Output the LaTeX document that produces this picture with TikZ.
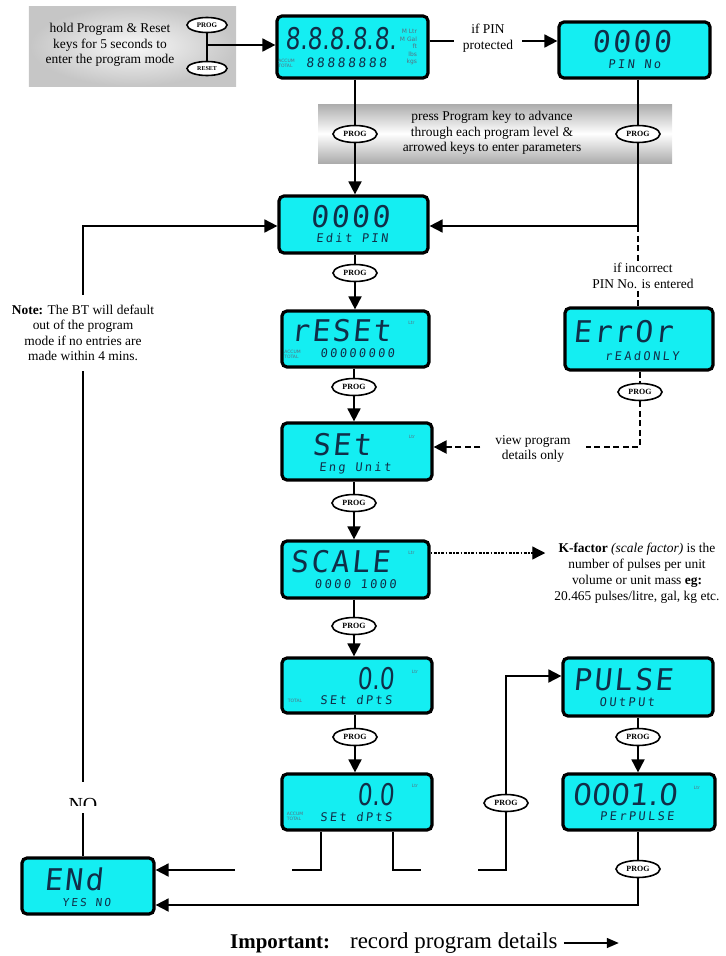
\documentclass[tikz,border=0pt]{standalone}
\usepackage{graphicx}
\usepackage{fontspec}
\setmainfont{Liberation Serif}
\newfontfamily\lcdfont{DejaVu Sans Mono}[FakeSlant=0.1, LetterSpace=8]
\newfontfamily\lcdwide{DejaVu Sans Mono}[FakeSlant=0.1, LetterSpace=20]
\newfontfamily\lcdprop{DejaVu Sans}[FakeSlant=0.1]
\newfontfamily\tagfont{DejaVu Sans}
\usepackage{tikz}
\usetikzlibrary{arrows.meta, positioning, shapes.geometric, calc}
\definecolor{lcdcyan}{RGB}{20, 238, 242}
\definecolor{lcdink}{RGB}{16, 46, 72}

\begin{document}
\begin{tikzpicture}[
  x=1bp, y=-1bp,
  lcd/.style={rectangle, rounded corners=5bp, draw=black, line width=3.2bp, fill=lcdcyan, minimum width=148bp, minimum height=57bp, inner sep=0pt},
  lcdbig/.style={inner sep=0pt, text=lcdink, font=\lcdfont\fontsize{30}{30}\selectfont},
  lcdnum/.style={inner sep=0pt, text=lcdink, font=\lcdprop\fontsize{30}{30}\selectfont},
  lcdsub/.style={inner sep=0pt, text=lcdink, font=\lcdwide\fontsize{12}{12}\selectfont},
  lcdtag/.style={inner sep=0pt, text=lcdink!70, font=\tagfont\fontsize{4.5}{5}\selectfont, align=left},
  key/.style={ellipse, draw=black, line width=1.6bp, fill=white, minimum width=44bp, minimum height=17bp, inner sep=0pt, font=\bfseries\fontsize{8}{8}\selectfont},
  line/.style={draw=black, line width=1.8bp},
  arrow/.style={line, -{Triangle[length=13bp, width=13bp]}},
  dashline/.style={line, line width=2.2bp, dash pattern=on 6bp off 3.5bp},
  dotline/.style={draw=black, line width=1.3bp, dash pattern=on 1.5bp off 1.5bp on 3bp off 1.5bp, -{Triangle[length=13bp, width=13bp]}},
  caption/.style={align=center, inner sep=0pt, font=\fontsize{13.5}{15.5}\selectfont}
]
\useasboundingbox (0,0) rectangle (726,956);

% start panel and banner
\node[rectangle, minimum width=207bp, minimum height=80bp, inner color=gray!5, outer color=gray!45] (hold) at (132.5,46) {};
\node[caption] (holdtext) at (110,45) {hold Program \& Reset\\keys for 5 seconds to\\enter the program mode};
\node[key, minimum width=40bp, minimum height=15bp, font=\bfseries\fontsize{7}{7}\selectfont] (keyprog) at (207,25) {PROG};
\node[key, minimum width=40bp, minimum height=14bp, font=\bfseries\fontsize{6}{6}\selectfont] (keyreset) at (207,68.5) {RESET};

\node[rectangle, minimum width=354bp, minimum height=59bp, top color=gray!65, bottom color=gray!65, middle color=white] (banner) at (495,133.5) {};
\node[caption] (bannertext) at (492,133) {press Program key to advance\\through each program level \&\\arrowed keys to enter parameters};

% displays
\node[lcd, minimum width=151bp, minimum height=62bp] (disp) at (352.5,47) {};
\node[lcdnum] (dispbig) at ([xshift=-11.5bp, yshift=8bp]disp.center) {\scalebox{0.78}[1]{8.8.8.8.8.}};
\node[lcdsub, font=\lcdwide\fontsize{13}{13}\selectfont] (dispsub) at ([xshift=-6bp, yshift=-15.5bp]disp.center) {88888888};
\node[lcdtag] (disptag) at ([xshift=-66bp, yshift=-16bp]disp.center) {ACCUM\\TOTAL};
\node[lcdtag, align=right, font=\tagfont\fontsize{6}{7.5}\selectfont] (dispunits) at ([xshift=56bp]disp.center) {M Ltr\\M Gal\\ft\\lbs\\kgs};

\node[lcd, minimum width=151bp, minimum height=56bp] (pin) at (634.5,50) {};
\node[lcdbig] (pinbig) at ([xshift=-3bp, yshift=8.5bp]pin.center) {0000};
\node[lcdsub] (pinsub) at ([yshift=-14bp]pin.center) {PIN No};

\node[lcd, minimum width=149bp] (editpin) at (353.5,224.5) {};
\node[lcdbig] (editbig) at ([xshift=-3.5bp, yshift=7.5bp]editpin.center) {0000};
\node[lcdsub] (editsub) at ([xshift=-1.5bp, yshift=-13.5bp]editpin.center) {Edit PIN};

\node[lcd, minimum width=147bp, minimum height=56bp] (reset) at (355.5,339) {};
\node[lcdbig] (resetbig) at ([xshift=-14.5bp, yshift=8.5bp]reset.center) {rESEt};
\node[lcdsub] (resetsub) at ([xshift=2bp, yshift=-14.5bp]reset.center) {00000000};
\node[lcdtag] (resettag) at ([xshift=-63bp, yshift=-15bp]reset.center) {ACCUM\\TOTAL};
\node[lcdtag] (resetltr) at ([xshift=56bp, yshift=16bp]reset.center) {Ltr};

\node[lcd, minimum width=150bp] (setunit) at (357,451.5) {};
\node[lcdbig] (setbig) at ([xshift=-15.5bp, yshift=7bp]setunit.center) {SEt};
\node[lcdsub] (setsub) at ([xshift=-2bp, yshift=-16.5bp]setunit.center) {Eng Unit};
\node[lcdtag] (setltr) at ([xshift=55bp, yshift=15bp]setunit.center) {Ltr};

\node[lcd, minimum width=147bp] (scale) at (355.5,569.5) {};
\node[lcdbig] (scalebig) at ([xshift=-15.5bp, yshift=7.5bp]scale.center) {SCALE};
\node[lcdsub] (scalesub) at ([yshift=-15bp]scale.center) {0000 1000};
\node[lcdtag] (scaleltr) at ([xshift=56bp, yshift=17bp]scale.center) {Ltr};

\node[lcd, minimum width=150bp, minimum height=55bp] (dpts) at (357,685.5) {};
\node[lcdnum] (dptsbig) at ([xshift=19bp, yshift=7bp]dpts.center) {\scalebox{0.78}[1]{0.0}};
\node[lcdsub] (dptssub) at ([xshift=-1bp, yshift=-15bp]dpts.center) {SEt dPtS};
\node[lcdtag] (dptstag) at ([xshift=-62bp, yshift=-15.5bp]dpts.center) {TOTAL};
\node[lcdtag] (dptsltr) at ([xshift=58bp, yshift=14bp]dpts.center) {Ltr};

\node[lcd, minimum width=150bp, minimum height=56bp] (accdpts) at (357,802) {};
\node[lcdnum] (accbig) at ([xshift=19bp, yshift=7bp]accdpts.center) {\scalebox{0.78}[1]{0.0}};
\node[lcdsub] (accsub) at ([xshift=-1bp, yshift=-15bp]accdpts.center) {SEt dPtS};
\node[lcdtag] (acctag) at ([xshift=-62bp, yshift=-14bp]accdpts.center) {ACCUM\\TOTAL};
\node[lcdtag] (accltr) at ([xshift=58bp, yshift=16bp]accdpts.center) {Ltr};

\node[lcd, minimum width=148bp, minimum height=62bp] (error) at (639,339) {};
\node[lcdbig] (errorbig) at ([xshift=-16bp, yshift=7bp]error.center) {ErrOr};
\node[lcdsub] (errorsub) at ([xshift=3bp, yshift=-17bp]error.center) {rEAdONLY};

\node[lcd, minimum width=150bp, minimum height=58bp] (pulse) at (638,687) {};
\node[lcdbig] (pulsebig) at ([xshift=-15bp, yshift=7bp]pulse.center) {PULSE};
\node[lcdsub] (pulsesub) at ([xshift=-11bp, yshift=-15.5bp]pulse.center) {OUtPUt};

\node[lcd, minimum width=152bp, minimum height=56bp] (perpulse) at (639,802) {};
\node[lcdnum] (perbig) at ([xshift=-14bp, yshift=7bp]perpulse.center) {0001.0};
\node[lcdsub] (persub) at ([xshift=-2bp, yshift=-14bp]perpulse.center) {PErPULSE};
\node[lcdtag] (perltr) at ([xshift=58bp, yshift=14bp]perpulse.center) {Ltr};

\node[lcd, minimum width=132bp, minimum height=56bp] (endbox) at (88,886) {};
\node[lcdbig] (endbig) at ([xshift=-14.5bp, yshift=6.5bp]endbox.center) {ENd};
\node[lcdsub, font=\lcdwide\fontsize{11}{11}\selectfont] (endsub) at ([xshift=-1.5bp, yshift=-16bp]endbox.center) {YES NO};

% program keys
\node[key] (keyA) at (355,134) {PROG};
\node[key] (keyB) at (638,134) {PROG};
\node[key] (keyC) at (355,273) {PROG};
\node[key] (keyD) at (354,387) {PROG};
\node[key] (keyE) at (354,503) {PROG};
\node[key] (keyF) at (354,626) {PROG};
\node[key] (keyG) at (355,737) {PROG};
\node[key] (keyH) at (638,737) {PROG};
\node[key] (keyI) at (638,869) {PROG};
\node[key] (keyJ) at (640,392) {PROG};
\node[key] (keyK) at (506,803) {PROG};

% captions
\node[caption, inner xsep=9bp] (pinif) at (488,38) {if PIN\\protected};
\node[caption, inner ysep=2bp] (incorrect) at (643,276) {if incorrect\\PIN No. is entered};
\node[caption, inner xsep=15bp] (viewtext) at (533,449) {view program\\details only};
\node[caption, inner ysep=10bp] (notetext) at (83,333) {\textbf{Note:} The BT will default\\out of the program\\mode if no entries are\\made within 4 mins.};
\node[caption, inner xsep=9bp, font=\fontsize{13.5}{16}\selectfont] (kfactor) at (637,573) {\textbf{K-factor} \textit{(scale factor)} is the\\number of pulses per unit\\volume or unit mass \textbf{eg:}\\20.465 pulses/litre, gal, kg etc.};
\begin{scope}
  \clip (55,785) rectangle (111,805);
  \node[inner sep=0pt, minimum height=31bp, text height=27bp, text depth=0bp, font=\fontsize{20}{20}\selectfont] (notext) at (83,797.5) {NO};
\end{scope}
\node[anchor=west, inner sep=0pt, font=\fontsize{23}{23}\selectfont] (important) at (230,943) {{\fontsize{21}{21}\selectfont\bfseries Important:}\hspace{20bp}record program details};

% connectors
\coordinate (pinrow) at (0,41);
\coordinate (keyjoin) at (207,45);
\coordinate (pinjoin) at (638,226);
\coordinate (loopcorner) at (83,226);
\coordinate (viewcorner) at (640,447);
\coordinate (krow) at (0,553);
\coordinate (pulsecorner) at (506,676);
\coordinate (endrow) at (0,905);
\coordinate (stubE) at (235,870);
\coordinate (stubF) at (478,870);
\coordinate (dpl) at (321,870);
\coordinate (dpr) at (393,870);

\draw[line] (keyprog) -- (keyreset);
\draw[arrow] (keyjoin) -- (keyjoin -| disp.west);
\draw[line] (disp.east |- pinrow) -- (pinif.west |- pinrow);
\draw[arrow] (pinif.east |- pinrow) -- (pin.west |- pinrow);

\draw[line] (keyA |- disp.south) -- (keyA);
\draw[arrow] (keyA) -- (keyA |- editpin.north);
\draw[line] (keyB |- pin.south) -- (keyB);
\draw[line] (keyB) -- (pinjoin);
\draw[arrow] (pinjoin) -- (pinjoin -| editpin.east);

\draw[dashline] (pinjoin) -- (pinjoin |- incorrect.north);
\draw[dashline] (pinjoin |- incorrect.south) -- (pinjoin |- error.north);
\draw[dashline] (keyJ |- error.south) -- (keyJ);
\draw[dashline] (keyJ) -- (viewcorner) -- (viewtext.east |- viewcorner);
\draw[dashline, -{Triangle[length=13bp, width=13bp]}] (viewtext.west |- viewcorner) -- (setunit.east |- viewcorner);

\draw[line] (keyC |- editpin.south) -- (keyC);
\draw[arrow] (keyC) -- (keyC |- reset.north);
\draw[line] (keyD |- reset.south) -- (keyD);
\draw[arrow] (keyD) -- (keyD |- setunit.north);
\draw[line] (keyE |- setunit.south) -- (keyE);
\draw[arrow] (keyE) -- (keyE |- scale.north);
\draw[line] (keyF |- scale.south) -- (keyF);
\draw[arrow] (keyF) -- (keyF |- dpts.north);
\draw[line] (keyG |- dpts.south) -- (keyG);
\draw[arrow] (keyG) -- (keyG |- accdpts.north);
\draw[line] (keyH |- pulse.south) -- (keyH);
\draw[arrow] (keyH) -- (keyH |- perpulse.north);
\draw[line] (keyI |- perpulse.south) -- (keyI);
\draw[arrow] (keyI) -- (keyI |- endrow) -- (endbox.east |- endrow);

\draw[dotline] (scale.east |- krow) -- (kfactor.west |- krow);

\draw[line] (endbox.north -| loopcorner) -- (notext.south);
\draw[line] (notext.north) -- (notetext.south);
\draw[arrow] (notetext.north) -- (loopcorner) -- (editpin.west |- loopcorner);

\draw[arrow] (stubE) -- (endbox.east |- stubE);
\draw[line] (dpl |- accdpts.south) -- (dpl) -- ++(-29,0);
\draw[line] (dpr |- accdpts.south) -- (dpr) -- ++(28,0);
\draw[line] (stubF) -- (keyK |- stubF) -- (keyK);
\draw[arrow] (keyK) -- (pulsecorner) -- (pulse.west |- pulsecorner);

\draw[line, line width=1.5bp, -{Triangle[length=12bp, width=10bp]}] ([xshift=6bp]important.east) -- ++(55,0);

\end{tikzpicture}
\end{document}
